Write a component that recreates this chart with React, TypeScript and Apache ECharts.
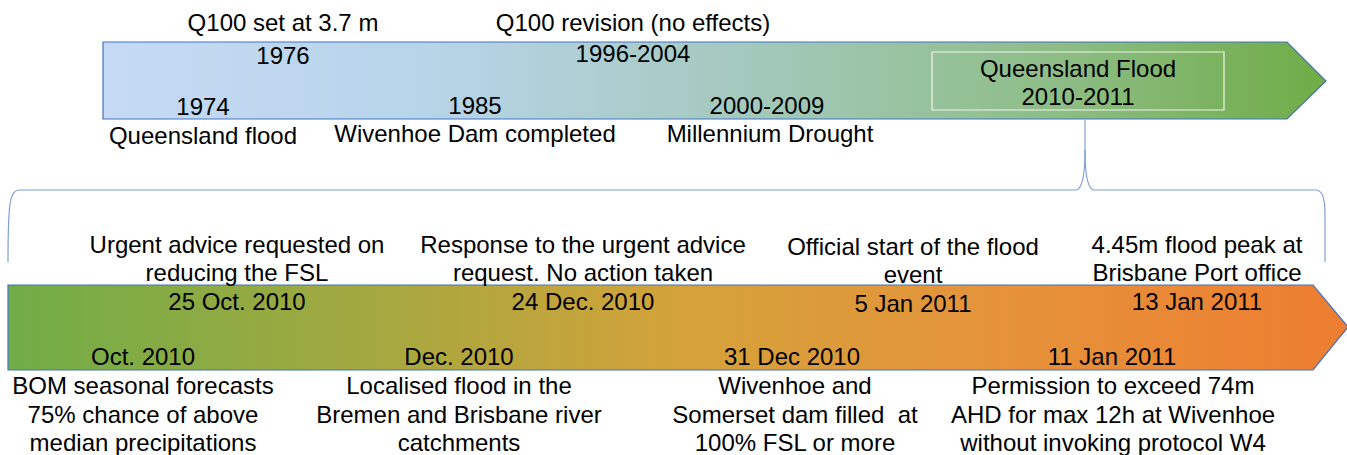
import React, { useEffect, useRef } from "react";
import * as echarts from "echarts";

// ---- Data (text content) ----
const topAboveDates = ["1976", "1996-2004"];
const topAboveLabels = ["Q100 set at 3.7 m", "Q100 revision (no effects)"];
const topBelowDates = ["1974", "1985", "2000-2009"];
const topBelowLabels = ["Queensland flood", "Wivenhoe Dam completed", "Millennium Drought"];
const focusLabel = ["Queensland Flood", "2010-2011"];

const bottomAboveDates = ["25 Oct. 2010", "24 Dec. 2010", "5 Jan 2011", "13 Jan 2011"];
const bottomAboveLabels = [
  ["Urgent advice requested on", "reducing the FSL"],
  ["Response to the urgent advice", "request. No action taken"],
  ["Official start of the flood", "event"],
  ["4.45m flood peak at", "Brisbane Port office"],
];
const bottomBelowDates = ["Oct. 2010", "Dec. 2010", "31 Dec 2010", "11 Jan 2011"];
const bottomBelowLabels = [
  ["BOM seasonal forecasts", "75% chance of above", "median precipitations"],
  ["Localised flood in the", "Bremen and Brisbane river", "catchments"],
  ["Wivenhoe and", "Somerset dam filled  at", "100% FSL or more"],
  ["Permission to exceed 74m", "AHD for max 12h at Wivenhoe", "without invoking protocol W4"],
];

// ---- Layout (positions) ----
const topAboveX = [283, 633];
const topAboveLabelY = [22, 22];
const topAboveDateY = [55, 53];
const topBelowX = [203, 475, 767];
const topBelowLabelX = [203, 475, 770];
const topBelowDateY = [106, 105, 105];
const topBelowLabelY = [135, 133, 133];

const bottomAboveX = [237, 583, 913, 1197];
const bottomAboveY0 = [244, 244, 246, 244];
const bottomBelowX = [143, 459, 795, 1113];
const bottomBelowDateX = [143, 459, 792, 1112];

const FONT = "'Liberation Sans', Arial, Helvetica, sans-serif";
const FS = 24;
const LH = 28.5;

function txt(text: string, x: number, y: number) {
  return {
    type: "text",
    x,
    y,
    z: 10,
    style: {
      text,
      x: 0,
      y: 0,
      fill: "#000000",
      font: `${FS}px ${FONT}`,
      align: "center",
      verticalAlign: "middle",
    },
  };
}

export default function App() {
  const ref = useRef<HTMLDivElement>(null);
  useEffect(() => {
    document.body.style.margin = "0";
    const chart = echarts.init(ref.current!, null, { renderer: "svg" });
    const elements: any[] = [];

    // Top arrow
    elements.push({
      type: "polygon",
      shape: { points: [[103, 42], [1287, 42], [1326, 81], [1287, 119], [103, 119]] },
      style: {
        fill: new echarts.graphic.LinearGradient(0, 0, 1, 0, [
          { offset: 0, color: "#c6daf6" },
          { offset: 0.27, color: "#b7d4e8" },
          { offset: 0.52, color: "#a4c9be" },
          { offset: 0.78, color: "#8ebd86" },
          { offset: 1, color: "#6fac46" },
        ]),
        stroke: "#4472c4",
        lineWidth: 1.2,
      },
    });
    // focus box
    elements.push({
      type: "rect",
      shape: { x: 932, y: 52, width: 292, height: 58 },
      style: { fill: "transparent", stroke: "#eef5ea", lineWidth: 1.2 },
    });

    // Bottom arrow
    elements.push({
      type: "polygon",
      shape: { points: [[8, 285], [1313, 285], [1348, 327], [1313, 370], [8, 370]] },
      style: {
        fill: new echarts.graphic.LinearGradient(0, 0, 1, 0, [
          { offset: 0, color: "#70ad47" },
          { offset: 0.27, color: "#a4a840" },
          { offset: 0.5, color: "#d4a23a" },
          { offset: 0.75, color: "#e6923a" },
          { offset: 1, color: "#ed7d31" },
        ]),
        stroke: "#4472c4",
        lineWidth: 1.2,
      },
    });

    // Brace
    const braceStyle = { stroke: "#7f9fd6", lineWidth: 1.2, fill: "none" };
    elements.push({
      type: "bezierCurve",
      shape: { x1: 8, y1: 262, cpx1: 8, cpy1: 200, cpx2: 10, cpy2: 190, x2: 20, y2: 190 },
      style: braceStyle,
    });
    elements.push({ type: "line", shape: { x1: 20, y1: 190, x2: 1076, y2: 190 }, style: braceStyle });
    elements.push({
      type: "bezierCurve",
      shape: { x1: 1076, y1: 190, cpx1: 1083, cpy1: 189, cpx2: 1085, cpy2: 172, x2: 1085, y2: 150 },
      style: braceStyle,
    });
    elements.push({ type: "line", shape: { x1: 1085, y1: 150, x2: 1085, y2: 120 }, style: braceStyle });
    elements.push({
      type: "bezierCurve",
      shape: { x1: 1085, y1: 150, cpx1: 1085, cpy1: 172, cpx2: 1087, cpy2: 189, x2: 1094, y2: 190 },
      style: braceStyle,
    });
    elements.push({ type: "line", shape: { x1: 1094, y1: 190, x2: 1315, y2: 190 }, style: braceStyle });
    elements.push({
      type: "bezierCurve",
      shape: { x1: 1315, y1: 190, cpx1: 1322, cpy1: 190, cpx2: 1325, cpy2: 196, x2: 1325, y2: 215 },
      style: braceStyle,
    });
    elements.push({ type: "line", shape: { x1: 1325, y1: 215, x2: 1325, y2: 262 }, style: braceStyle });

    // Top texts
    topAboveDates.forEach((d, i) => {
      elements.push(txt(topAboveLabels[i], topAboveX[i], topAboveLabelY[i]));
      elements.push(txt(d, topAboveX[i], topAboveDateY[i]));
    });
    topBelowDates.forEach((d, i) => {
      elements.push(txt(d, topBelowX[i], topBelowDateY[i]));
      elements.push(txt(topBelowLabels[i], topBelowLabelX[i], topBelowLabelY[i]));
    });
    focusLabel.forEach((t, i) => elements.push(txt(t, 1078, 68 + i * 28)));

    // Bottom texts
    bottomAboveDates.forEach((d, i) => {
      const lines = bottomAboveLabels[i];
      lines.forEach((l, j) => elements.push(txt(l, bottomAboveX[i], bottomAboveY0[i] + j * LH)));
      elements.push(txt(d, bottomAboveX[i], bottomAboveY0[i] + 2 * LH));
    });
    bottomBelowDates.forEach((d, i) => {
      elements.push(txt(d, bottomBelowDateX[i], 356));
      bottomBelowLabels[i].forEach((l, j) => elements.push(txt(l, bottomBelowX[i], 385.5 + j * 28.5)));
    });

    chart.setOption({
      animation: false,
      graphic: { elements },
    });
    return () => chart.dispose();
  }, []);
  return <div ref={ref} style={{ width: 1347, height: 455, background: "#ffffff" }} />;
}
